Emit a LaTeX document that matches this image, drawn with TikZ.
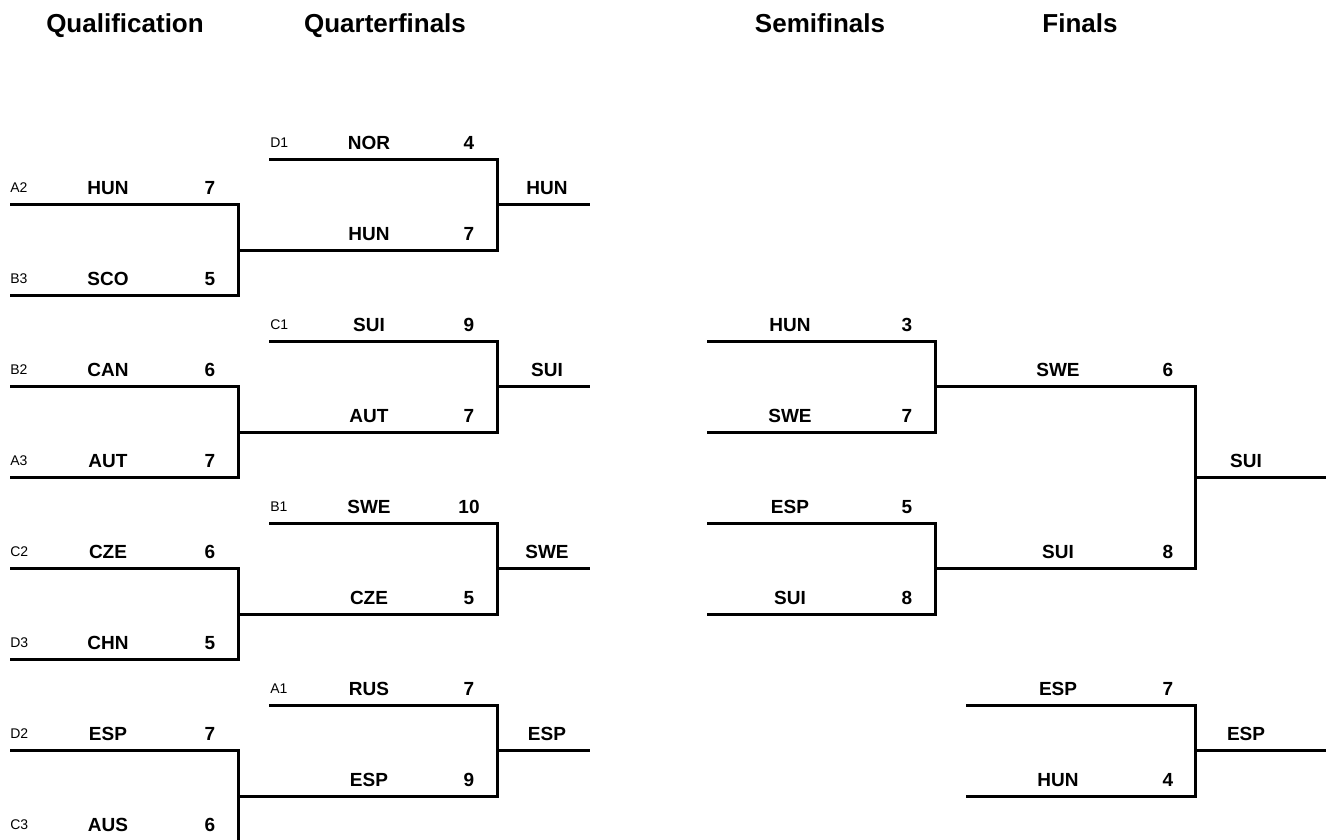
\documentclass[tikz,border=0pt]{standalone}
\usepackage{fontspec}
\setmainfont{Liberation Sans}
\usepackage{tikz}

\begin{document}
\begin{tikzpicture}[x=0.75pt, y=-0.75pt] %Tableau
    \tikzstyle{roundtitle} = [font=\bfseries\fontsize{19.5}{22}\selectfont, inner sep=0pt, anchor=base]
    \tikzstyle{team} = [font=\bfseries\fontsize{14.25}{16}\selectfont, inner sep=0pt, anchor=base]
    \tikzstyle{seed} = [font=\fontsize{10.5}{12}\selectfont, inner sep=0pt, anchor=base west]
    \tikzstyle{bracket} = [line width=2.25pt]
    \useasboundingbox (0,0) rectangle (1328,839);
    \foreach \name/\x/\txt in {Qual/125/Qualification, Quarter/385/Quarterfinals, Semi/820/Semifinals, Final/1080/Finals}
    {
        \node[roundtitle] (\name) at (\x,32) {\txt};
    }
    % lignes des matchs
    \foreach \name/\row/\xl/\xr/\xt/\xs/\team/\score in {q1/1/10/238/108/210/HUN/7, q2/3/10/238/108/210/SCO/5, q3/5/10/238/108/210/CAN/6, q4/7/10/238/108/210/AUT/7, q5/9/10/238/108/210/CZE/6, q6/11/10/238/108/210/CHN/5, q7/13/10/238/108/210/ESP/7, q8/15/10/238/108/210/AUS/6, qf1/0/269/497/369/469/NOR/4, qf2/2/238/497/369/469/HUN/7, qf3/4/269/497/369/469/SUI/9, qf4/6/238/497/369/469/AUT/7, qf5/8/269/497/369/469/SWE/10, qf6/10/238/497/369/469/CZE/5, qf7/12/269/497/369/469/RUS/7, qf8/14/238/497/369/469/ESP/9, s1/4/707/935/790/907/HUN/3, s2/6/707/935/790/907/SWE/7, s3/8/707/935/790/907/ESP/5, s4/10/707/935/790/907/SUI/8, f1/5/935/1195/1058/1168/SWE/6, f2/9/935/1195/1058/1168/SUI/8, t1/12/966/1195/1058/1168/ESP/7, t2/14/966/1195/1058/1168/HUN/4}
    {
        \coordinate (\name-l) at (\xl,{159+45.5*\row});
        \coordinate (\name-r) at (\xr,{159+45.5*\row});
        \node[team] (\name-team) at (\xt,{149+45.5*\row}) {\team};
        \node[team] (\name-score) at (\xs,{149+45.5*\row}) {\score};
    }
    % groupes
    \foreach \name/\x/\row/\seed in {q1/10/1/A2, q2/10/3/B3, q3/10/5/B2, q4/10/7/A3, q5/10/9/C2, q6/10/11/D3, q7/10/13/D2, q8/10/15/C3, qf1/270/0/D1, qf3/270/4/C1, qf5/270/8/B1, qf7/270/12/A1}
    {
        \node[seed] (\name-seed) at (\x,{147+45.5*\row}) {\seed};
    }
    % vainqueurs
    \foreach \name/\row/\xl/\xr/\xt/\team in {w1/1/497/590/547/HUN, w2/5/497/590/547/SUI, w3/9/497/590/547/SWE, w4/13/497/590/547/ESP, champ/7/1195/1326/1246/SUI, bronze/13/1195/1326/1246/ESP}
    {
        \coordinate (\name-l) at (\xl,{159+45.5*\row});
        \coordinate (\name-r) at (\xr,{159+45.5*\row});
        \node[team] (\name-team) at (\xt,{149+45.5*\row}) {\team};
        \draw[bracket] (\name-l) -- (\name-r);
    }
    \foreach \a/\b in {q1/q2, q3/q4, q5/q6, q7/q8, qf1/qf2, qf3/qf4, qf5/qf6, qf7/qf8, s1/s2, s3/s4, f1/f2, t1/t2}
    {
        \draw[bracket] (\a-l) -- (\a-r) -- (\b-r) -- (\b-l);
    }
\end{tikzpicture}
\end{document}
